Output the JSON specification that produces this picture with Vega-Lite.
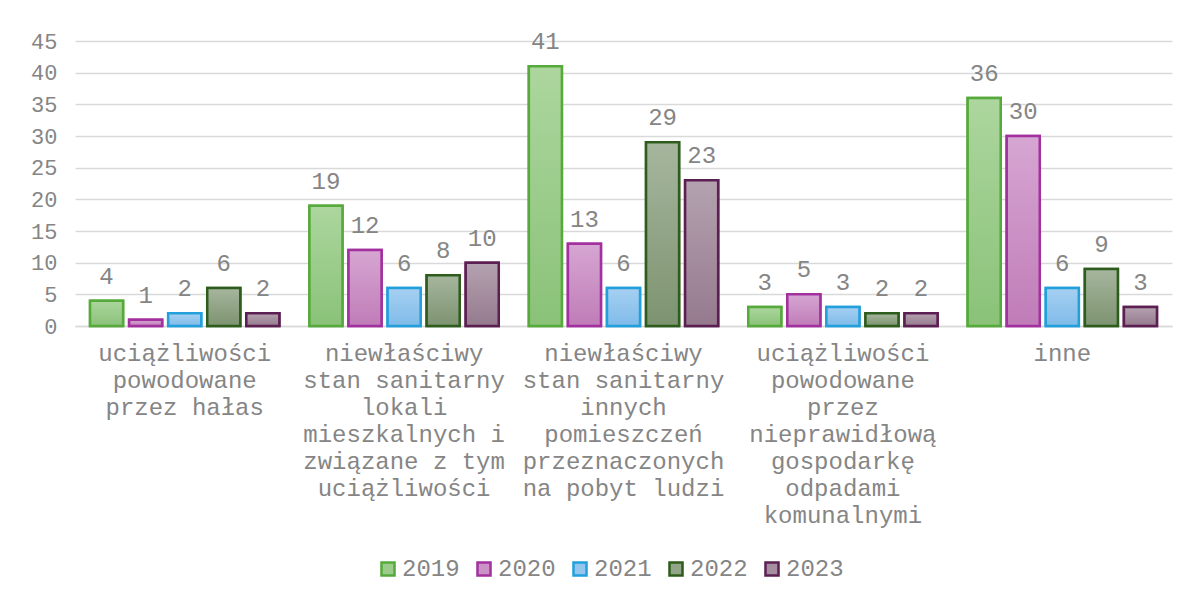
{
  "$schema": "https://vega.github.io/schema/vega-lite/v6.json",
  "autosize": {"type": "none"},
  "width": 1097,
  "height": 285,
  "padding": {"left": 75, "top": 41, "right": 14, "bottom": 274},
  "background": "white",
  "config": {
    "font": "Liberation Mono",
    "view": {"stroke": null},
    "axis": {"labelColor": "#858585", "labelFont": "Liberation Mono"},
    "legend": {"labelColor": "#858585", "labelFont": "Liberation Mono"}
  },
  "data": {
    "values": [
      {"cat": "uciążliwości|powodowane|przez hałas", "year": "2019", "value": 4},
      {"cat": "uciążliwości|powodowane|przez hałas", "year": "2020", "value": 1},
      {"cat": "uciążliwości|powodowane|przez hałas", "year": "2021", "value": 2},
      {"cat": "uciążliwości|powodowane|przez hałas", "year": "2022", "value": 6},
      {"cat": "uciążliwości|powodowane|przez hałas", "year": "2023", "value": 2},
      {"cat": "niewłaściwy|stan sanitarny|lokali|mieszkalnych i|związane z tym|uciążliwości", "year": "2019", "value": 19},
      {"cat": "niewłaściwy|stan sanitarny|lokali|mieszkalnych i|związane z tym|uciążliwości", "year": "2020", "value": 12},
      {"cat": "niewłaściwy|stan sanitarny|lokali|mieszkalnych i|związane z tym|uciążliwości", "year": "2021", "value": 6},
      {"cat": "niewłaściwy|stan sanitarny|lokali|mieszkalnych i|związane z tym|uciążliwości", "year": "2022", "value": 8},
      {"cat": "niewłaściwy|stan sanitarny|lokali|mieszkalnych i|związane z tym|uciążliwości", "year": "2023", "value": 10},
      {"cat": "niewłaściwy|stan sanitarny|innych|pomieszczeń|przeznaczonych|na pobyt ludzi", "year": "2019", "value": 41},
      {"cat": "niewłaściwy|stan sanitarny|innych|pomieszczeń|przeznaczonych|na pobyt ludzi", "year": "2020", "value": 13},
      {"cat": "niewłaściwy|stan sanitarny|innych|pomieszczeń|przeznaczonych|na pobyt ludzi", "year": "2021", "value": 6},
      {"cat": "niewłaściwy|stan sanitarny|innych|pomieszczeń|przeznaczonych|na pobyt ludzi", "year": "2022", "value": 29},
      {"cat": "niewłaściwy|stan sanitarny|innych|pomieszczeń|przeznaczonych|na pobyt ludzi", "year": "2023", "value": 23},
      {"cat": "uciążliwości|powodowane|przez|nieprawidłową|gospodarkę|odpadami|komunalnymi", "year": "2019", "value": 3},
      {"cat": "uciążliwości|powodowane|przez|nieprawidłową|gospodarkę|odpadami|komunalnymi", "year": "2020", "value": 5},
      {"cat": "uciążliwości|powodowane|przez|nieprawidłową|gospodarkę|odpadami|komunalnymi", "year": "2021", "value": 3},
      {"cat": "uciążliwości|powodowane|przez|nieprawidłową|gospodarkę|odpadami|komunalnymi", "year": "2022", "value": 2},
      {"cat": "uciążliwości|powodowane|przez|nieprawidłową|gospodarkę|odpadami|komunalnymi", "year": "2023", "value": 2},
      {"cat": "inne", "year": "2019", "value": 36},
      {"cat": "inne", "year": "2020", "value": 30},
      {"cat": "inne", "year": "2021", "value": 6},
      {"cat": "inne", "year": "2022", "value": 9},
      {"cat": "inne", "year": "2023", "value": 3}
    ]
  },
  "encoding": {
    "x": {
      "field": "cat", "type": "nominal", "sort": null,
      "scale": {"paddingInner": 0, "paddingOuter": 0},
      "axis": {
        "title": null, "labelAngle": 0, "ticks": false,
        "domainColor": "#d9d9d9", "domainWidth": 1.5,
        "labelExpr": "split(datum.label, '|')",
        "labelBaseline": "top", "labelPadding": 15,
        "labelFontSize": 24, "labelLineHeight": 27, "labelLimit": 0
      }
    },
    "xOffset": {
      "field": "year", "type": "nominal",
      "scale": {"paddingInner": 0.154, "paddingOuter": 0.385}
    },
    "y": {
      "field": "value", "type": "quantitative",
      "scale": {"domain": [0, 45]},
      "axis": {
        "title": null, "values": [0, 5, 10, 15, 20, 25, 30, 35, 40, 45],
        "domain": false, "ticks": false, "gridColor": "#d9d9d9", "gridWidth": 1.5,
        "labelFontSize": 22, "labelPadding": 18
      }
    }
  },
  "layer": [
    {
      "mark": {"type": "bar", "strokeWidth": 2.5},
      "encoding": {
        "fill": {
          "field": "year", "type": "nominal",
          "scale": {
            "domain": ["2019", "2020", "2021", "2022", "2023"],
            "range": ["#9ccc8b", "#cc92c6", "#93c6ee", "#92a588", "#a58e9f"]
          },
          "legend": {
            "title": null, "orient": "none", "direction": "horizontal",
            "legendX": 301, "legendY": 516,
            "symbolType": "square", "symbolSize": 170, "symbolStrokeWidth": 2.5,
            "labelFontSize": 24, "columnPadding": 12, "labelOffset": 2
          }
        },
        "stroke": {
          "field": "year", "type": "nominal",
          "scale": {
            "domain": ["2019", "2020", "2021", "2022", "2023"],
            "range": ["#56a93b", "#a2309e", "#23a0db", "#2e5c1c", "#5c1f52"]
          },
          "legend": {
            "title": null, "orient": "none", "direction": "horizontal",
            "legendX": 301, "legendY": 516,
            "symbolType": "square", "symbolSize": 170, "symbolStrokeWidth": 2.5,
            "labelFontSize": 24, "columnPadding": 12, "labelOffset": 2
          }
        }
      }
    },
    {
      "transform": [{"filter": "datum.year === '2019'"}],
      "mark": {"type": "bar", "strokeWidth": 2.5, "stroke": "#56a93b",
        "fill": {"gradient": "linear", "x1": 0, "y1": 0, "x2": 0, "y2": 1, "stops": [{"offset": 0, "color": "#acd69e"}, {"offset": 1, "color": "#8ac278"}]}}
    },
    {
      "transform": [{"filter": "datum.year === '2020'"}],
      "mark": {"type": "bar", "strokeWidth": 2.5, "stroke": "#a2309e",
        "fill": {"gradient": "linear", "x1": 0, "y1": 0, "x2": 0, "y2": 1, "stops": [{"offset": 0, "color": "#d6a6d2"}, {"offset": 1, "color": "#c07cb8"}]}}
    },
    {
      "transform": [{"filter": "datum.year === '2021'"}],
      "mark": {"type": "bar", "strokeWidth": 2.5, "stroke": "#23a0db",
        "fill": {"gradient": "linear", "x1": 0, "y1": 0, "x2": 0, "y2": 1, "stops": [{"offset": 0, "color": "#a6d0f2"}, {"offset": 1, "color": "#7fbbe9"}]}}
    },
    {
      "transform": [{"filter": "datum.year === '2022'"}],
      "mark": {"type": "bar", "strokeWidth": 2.5, "stroke": "#2e5c1c",
        "fill": {"gradient": "linear", "x1": 0, "y1": 0, "x2": 0, "y2": 1, "stops": [{"offset": 0, "color": "#a6b69e"}, {"offset": 1, "color": "#7d9370"}]}}
    },
    {
      "transform": [{"filter": "datum.year === '2023'"}],
      "mark": {"type": "bar", "strokeWidth": 2.5, "stroke": "#5c1f52",
        "fill": {"gradient": "linear", "x1": 0, "y1": 0, "x2": 0, "y2": 1, "stops": [{"offset": 0, "color": "#b4a2b0"}, {"offset": 1, "color": "#957a8d"}]}}
    },
    {
      "mark": {"type": "text", "baseline": "alphabetic", "dy": -17, "fontSize": 24, "color": "#858585"},
      "encoding": {
        "text": {"field": "value", "type": "quantitative"}
      }
    }
  ]
}
